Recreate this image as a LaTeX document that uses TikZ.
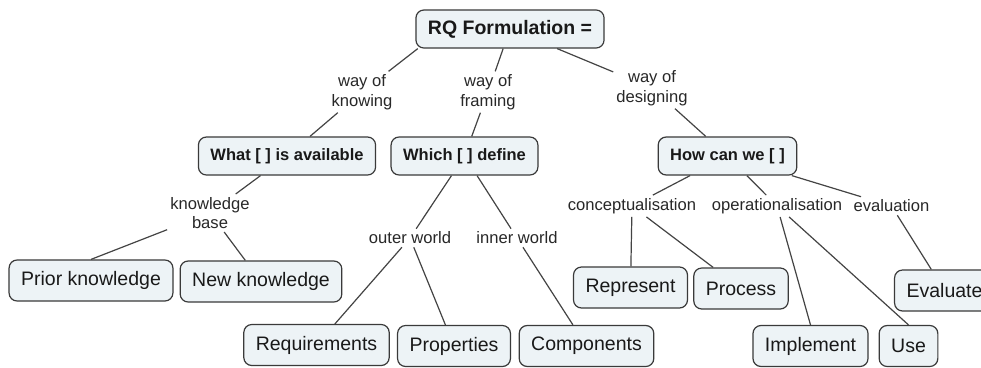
\documentclass[tikz,border=0pt]{standalone}
\usepackage{fontspec}
\setmainfont{Liberation Sans}
\usepackage{tikz}
\usetikzlibrary{positioning}
\definecolor{cmapfill}{RGB}{237,243,246}
\definecolor{cmapdraw}{RGB}{58,58,58}
\definecolor{cmapline}{RGB}{68,68,68}
\definecolor{cmaptext}{RGB}{40,40,40}
\tikzset{
  concept/.style={
    draw=cmapdraw,fill=cmapfill,rounded corners=8pt,line width=1.2pt,
    inner xsep=12pt,inner ysep=0pt,align=center,text=black!90
  },
  topconcept/.style={concept,minimum height=38pt,font=\fontsize{19.5}{22}\selectfont\bfseries},
  midconcept/.style={concept,minimum height=38pt,font=\fontsize{16.5}{19}\selectfont\bfseries},
  leafconcept/.style={concept,minimum height=41pt,font=\fontsize{19.5}{22}\selectfont},
  linkphrase/.style={inner sep=3pt,align=center,text=cmaptext,font=\fontsize{16.6}{19.5}\selectfont},
  linkline/.style={draw=cmapline,line width=1.2pt}
}

\begin{document}
\begin{tikzpicture}[x=1pt,y=-1pt]
  \clip (0,0) rectangle (981,367);
  \fill[white] (0,0) rectangle (981,367);
  % concepts
  \node[topconcept] (rq) at (510,29) {RQ Formulation =};
  \node[midconcept] (what) at (287,156) {What [ ] is available};
  \node[midconcept] (which) at (464.5,156) {Which [ ] define};
  \node[midconcept] (how) at (727.5,156) {How can we [ ]};
  \node[leafconcept] (prior) at (91,280.5) {Prior knowledge};
  \node[leafconcept] (new) at (261,281.5) {New knowledge};
  \node[leafconcept] (req) at (316.5,345) {Requirements};
  \node[leafconcept] (prop) at (454,346) {Properties};
  \node[leafconcept] (comp) at (586.5,346) {Components};
  \node[leafconcept] (repr) at (630.5,287.5) {Represent};
  \node[leafconcept] (proc) at (741,288.5) {Process};
  \node[leafconcept] (evalc) at (944.5,290.5) {Evaluate};
  \node[leafconcept] (impl) at (810.5,346) {Implement};
  \node[leafconcept] (use) at (908.5,346) {Use};
  % linking phrases
  \node[linkphrase] (lknow) at (362,92) {way of\\knowing};
  \node[linkphrase] (lframe) at (488,92) {way of\\framing};
  \node[linkphrase] (ldesign) at (652,88) {way of\\designing};
  \node[linkphrase] (lkb) at (210,213) {knowledge\\base};
  \node[linkphrase] (louter) at (410,238) {outer world};
  \node[linkphrase] (linner) at (517,238) {inner world};
  \node[linkphrase] (lconc) at (632,206) {conceptualisation};
  \node[linkphrase] (loper) at (777,206) {operationalisation};
  \node[linkphrase] (leval) at (891.5,206) {evaluation};
  % connections
  \draw[linkline] (rq.-168) -- (lknow);
  \draw[linkline] (lknow) -- (what);
  \draw[linkline] (rq) -- (lframe);
  \draw[linkline] (lframe) -- (which);
  \draw[linkline] (rq) -- (ldesign);
  \draw[linkline] (ldesign) -- (how);
  \draw[linkline] (what) -- (lkb);
  \draw[linkline] (lkb) -- (prior.north);
  \draw[linkline] (lkb) -- (new);
  \draw[linkline] (which) -- (louter);
  \draw[linkline] (louter) -- (req);
  \draw[linkline] (louter) -- (prop);
  \draw[linkline] (which) -- (linner);
  \draw[linkline] (linner) -- (comp);
  \draw[linkline] (how) -- (lconc);
  \draw[linkline] (lconc) -- (repr);
  \draw[linkline] (lconc) -- (proc);
  \draw[linkline] (how) -- (loper);
  \draw[linkline] (loper) -- (impl.north);
  \draw[linkline] (loper) -- (use.north);
  \draw[linkline] (how) -- (leval);
  \draw[linkline] (leval) -- (evalc);
\end{tikzpicture}
\end{document}
